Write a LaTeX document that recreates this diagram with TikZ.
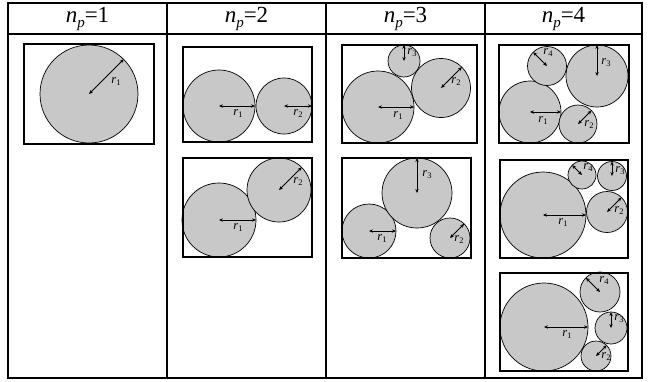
\documentclass[tikz,border=0pt]{standalone}
\usepackage{fontspec}
\setmainfont{Liberation Serif}
\usetikzlibrary{arrows.meta}
\definecolor{cgray}{RGB}{200,200,200}
\newcommand\npl[1]{\textit{n}\raisebox{-0.4ex}{\fontsize{15}{15}\selectfont\textit{p}}=#1}
\newcommand\rl[1]{\textit{r}\raisebox{-0.35ex}{\fontsize{8.5}{8.5}\selectfont #1}}
\tikzset{
  tbl/.style={line width=1.8pt},
  boxline/.style={line width=1.7pt},
  circ/.style={circle, draw, fill=cgray, line width=0.7pt, inner sep=0pt, outer sep=0pt, minimum size=#1},
  rarr/.style={line width=0.75pt, {Stealth[length=4pt,width=3.4pt]}-{Stealth[length=4pt,width=3.4pt]}},
  lbl/.style={inner sep=0pt, font=\fontsize{12.5}{12.5}\selectfont},
  hdr/.style={inner sep=0pt, font=\fontsize{23}{23}\selectfont}
}
\begin{document}
\begin{tikzpicture}[x=1pt,y=-1pt]
\useasboundingbox (0,0) rectangle (648,381);
% table
\draw[tbl] (8,3) rectangle (642,378);
\draw[tbl] (8,34) -- (642,34);
\draw[tbl] (167,3) -- (167,378);
\draw[tbl] (326,3) -- (326,378);
\draw[tbl] (485,3) -- (485,378);
\node[hdr] (h1) at (87.5,19) {\npl{1}};
\node[hdr] (h2) at (246.5,19) {\npl{2}};
\node[hdr] (h3) at (405.5,19) {\npl{3}};
\node[hdr] (h4) at (563.5,19) {\npl{4}};

% column 1
\node[circ=98pt] (c11) at (89,94) {};
\draw[rarr] (c11.center) -- (c11.45);
\node[lbl] (l11) at (116,82) {\rl{1}};
\draw[boxline] (24,44) rectangle (154,144);

% column 2, box a
\node[circ=72pt] (a1) at (219,106) {};
\node[circ=56pt] (a2) at (284,106) {};
\draw[rarr] (a1.center) -- (a1.east);
\draw[rarr] (a2.center) -- (a2.east);
\node[lbl] (la1) at (238,114) {\rl{1}};
\node[lbl] (la2) at (298,114) {\rl{2}};
\draw[boxline] (183,47) rectangle (312,142);

% column 2, box b
\node[circ=74pt] (b1) at (219,220) {};
\node[circ=64pt] (b2) at (279,190) {};
\draw[rarr] (b1.center) -- (b1.east);
\draw[rarr] (b2.center) -- (b2.45);
\node[lbl] (lb1) at (238,228) {\rl{1}};
\node[lbl] (lb2) at (298,182) {\rl{2}};
\draw[boxline] (183,158) rectangle (312,257);

% column 3, box a
\node[circ=72pt] (d1) at (378,107) {};
\node[circ=59pt] (d2) at (441,88) {};
\node[circ=32pt] (d3) at (404,61) {};
\draw[rarr] (d1.center) -- (d1.east);
\draw[rarr] (d2.center) -- (d2.45);
\draw[rarr] (d3.center) -- (d3.north);
\node[lbl] (ld1) at (398,116) {\rl{1}};
\node[lbl] (ld2) at (456,82) {\rl{2}};
\node[lbl] (ld3) at (412,53) {\rl{3}};
\draw[boxline] (342,45) rectangle (477,143);

% column 3, box b
\node[circ=54pt] (e1) at (369,231) {};
\node[circ=70pt] (e3) at (417,193) {};
\node[circ=40pt] (e2) at (450,238) {};
\draw[rarr] (e1.center) -- (e1.east);
\draw[rarr] (e3.center) -- (e3.north);
\draw[rarr] (e2.center) -- (e2.45);
\node[lbl] (le1) at (382,239) {\rl{1}};
\node[lbl] (le3) at (427,175) {\rl{3}};
\node[lbl] (le2) at (459,240) {\rl{2}};
\draw[boxline] (342,158) rectangle (471,258);

% column 4, box a
\node[circ=62pt] (f1) at (530,112) {};
\node[circ=38pt] (f2) at (578,124) {};
\node[circ=62pt] (f3) at (597,76) {};
\node[circ=39pt] (f4) at (547,66) {};
\draw[rarr] (f1.center) -- (f1.east);
\draw[rarr] (f2.center) -- (f2.45);
\draw[rarr] (f3.center) -- (f3.north);
\draw[rarr] (f4.center) -- (f4.135);
\node[lbl] (lf1) at (543,121) {\rl{1}};
\node[lbl] (lf2) at (589,125) {\rl{2}};
\node[lbl] (lf3) at (606,63) {\rl{3}};
\node[lbl] (lf4) at (548,53) {\rl{4}};
\draw[boxline] (499,45) rectangle (629,143);

% column 4, box b
\node[circ=86pt] (g1) at (543,215) {};
\node[circ=41pt] (g2) at (607,212) {};
\node[circ=29pt] (g3) at (612,176) {};
\node[circ=28pt] (g4) at (582,175) {};
\draw[rarr] (g1.center) -- (g1.east);
\draw[rarr] (g2.center) -- (g2.45);
\draw[rarr] (g3.center) -- (g3.north);
\draw[rarr] (g4.center) -- (g4.135);
\node[lbl] (lg1) at (563,223) {\rl{1}};
\node[lbl] (lg2) at (619,211) {\rl{2}};
\node[lbl] (lg3) at (620,171) {\rl{3}};
\node[lbl] (lg4) at (588,168) {\rl{4}};
\draw[boxline] (500,160) rectangle (628,258);

% column 4, box c
\node[circ=88pt] (k1) at (544,327) {};
\node[circ=40pt] (k4) at (600,292) {};
\node[circ=32pt] (k3) at (611,328) {};
\node[circ=30pt] (k2) at (596,356) {};
\draw[rarr] (k1.center) -- (k1.east);
\draw[rarr] (k4.center) -- (k4.135);
\draw[rarr] (k3.center) -- (k3.north);
\draw[rarr] (k2.center) -- (k2.45);
\node[lbl] (lk1) at (567,335) {\rl{1}};
\node[lbl] (lk4) at (604,281) {\rl{4}};
\node[lbl] (lk3) at (619,319) {\rl{3}};
\node[lbl] (lk2) at (606,357) {\rl{2}};
\draw[boxline] (500,273) rectangle (628,371);
\end{tikzpicture}
\end{document}
